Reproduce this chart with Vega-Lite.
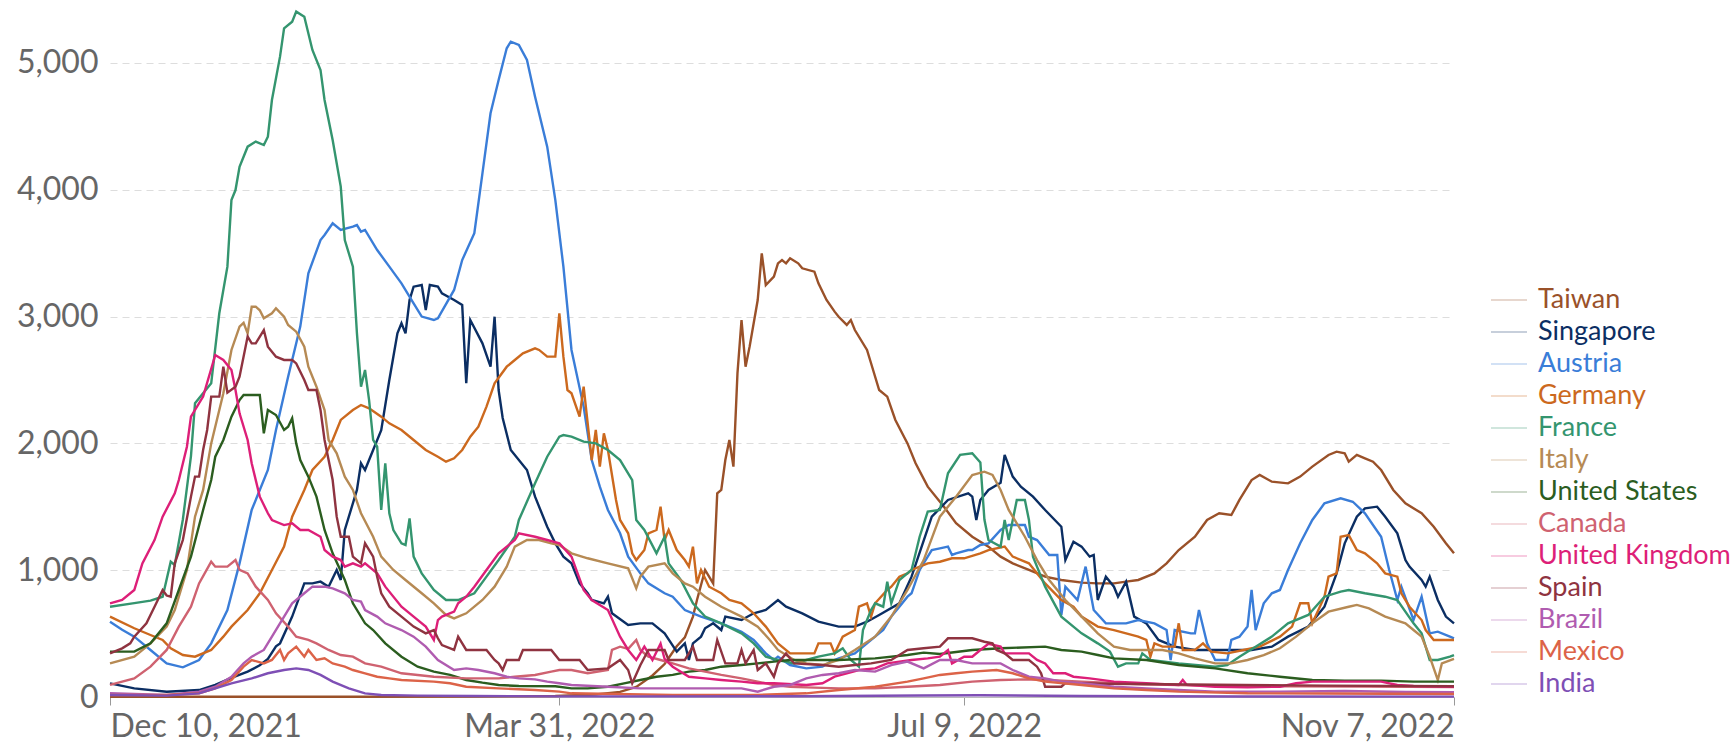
{
"$schema": "https://vega.github.io/schema/vega-lite/v6.json",
"width": 1344, "height": 686,
"autosize": {"type": "none"},
"padding": {"left": 110, "top": 11, "right": 280, "bottom": 52},
"background": "white",
"config": {"font": "Lato", "view": {"stroke": null}},
"data": {"values": [
{"c":"Taiwan","d":"2021-12-10","v":2},{"c":"Taiwan","d":"2022-01-09","v":2},{"c":"Taiwan","d":"2022-02-08","v":2},{"c":"Taiwan","d":"2022-03-10","v":3},{"c":"Taiwan","d":"2022-03-30","v":8},{"c":"Taiwan","d":"2022-04-09","v":20},{"c":"Taiwan","d":"2022-04-15","v":40},{"c":"Taiwan","d":"2022-04-19","v":80},{"c":"Taiwan","d":"2022-04-23","v":170},{"c":"Taiwan","d":"2022-04-26","v":260},{"c":"Taiwan","d":"2022-04-29","v":400},{"c":"Taiwan","d":"2022-05-01","v":470},{"c":"Taiwan","d":"2022-05-03","v":634},{"c":"Taiwan","d":"2022-05-04","v":765},{"c":"Taiwan","d":"2022-05-06","v":1002},{"c":"Taiwan","d":"2022-05-08","v":896},{"c":"Taiwan","d":"2022-05-09","v":1606},{"c":"Taiwan","d":"2022-05-10","v":1633},{"c":"Taiwan","d":"2022-05-11","v":1869},{"c":"Taiwan","d":"2022-05-12","v":2027},{"c":"Taiwan","d":"2022-05-13","v":1817},{"c":"Taiwan","d":"2022-05-14","v":2553},{"c":"Taiwan","d":"2022-05-15","v":2973},{"c":"Taiwan","d":"2022-05-16","v":2605},{"c":"Taiwan","d":"2022-05-17","v":2763},{"c":"Taiwan","d":"2022-05-19","v":3131},{"c":"Taiwan","d":"2022-05-20","v":3499},{"c":"Taiwan","d":"2022-05-21","v":3249},{"c":"Taiwan","d":"2022-05-23","v":3315},{"c":"Taiwan","d":"2022-05-24","v":3420},{"c":"Taiwan","d":"2022-05-25","v":3446},{"c":"Taiwan","d":"2022-05-26","v":3420},{"c":"Taiwan","d":"2022-05-27","v":3460},{"c":"Taiwan","d":"2022-05-29","v":3420},{"c":"Taiwan","d":"2022-05-30","v":3381},{"c":"Taiwan","d":"2022-06-02","v":3354},{"c":"Taiwan","d":"2022-06-03","v":3262},{"c":"Taiwan","d":"2022-06-05","v":3131},{"c":"Taiwan","d":"2022-06-07","v":3039},{"c":"Taiwan","d":"2022-06-08","v":2999},{"c":"Taiwan","d":"2022-06-10","v":2934},{"c":"Taiwan","d":"2022-06-11","v":2973},{"c":"Taiwan","d":"2022-06-12","v":2894},{"c":"Taiwan","d":"2022-06-15","v":2737},{"c":"Taiwan","d":"2022-06-16","v":2632},{"c":"Taiwan","d":"2022-06-18","v":2421},{"c":"Taiwan","d":"2022-06-20","v":2369},{"c":"Taiwan","d":"2022-06-22","v":2185},{"c":"Taiwan","d":"2022-06-25","v":2000},{"c":"Taiwan","d":"2022-06-27","v":1843},{"c":"Taiwan","d":"2022-06-30","v":1659},{"c":"Taiwan","d":"2022-07-04","v":1501},{"c":"Taiwan","d":"2022-07-07","v":1370},{"c":"Taiwan","d":"2022-07-11","v":1264},{"c":"Taiwan","d":"2022-07-15","v":1186},{"c":"Taiwan","d":"2022-07-18","v":1107},{"c":"Taiwan","d":"2022-07-21","v":1054},{"c":"Taiwan","d":"2022-07-25","v":1002},{"c":"Taiwan","d":"2022-07-29","v":949},{"c":"Taiwan","d":"2022-08-02","v":923},{"c":"Taiwan","d":"2022-08-07","v":902},{"c":"Taiwan","d":"2022-08-11","v":896},{"c":"Taiwan","d":"2022-08-15","v":896},{"c":"Taiwan","d":"2022-08-18","v":910},{"c":"Taiwan","d":"2022-08-21","v":923},{"c":"Taiwan","d":"2022-08-25","v":975},{"c":"Taiwan","d":"2022-08-28","v":1054},{"c":"Taiwan","d":"2022-08-31","v":1159},{"c":"Taiwan","d":"2022-09-04","v":1264},{"c":"Taiwan","d":"2022-09-07","v":1396},{"c":"Taiwan","d":"2022-09-10","v":1449},{"c":"Taiwan","d":"2022-09-13","v":1435},{"c":"Taiwan","d":"2022-09-15","v":1554},{"c":"Taiwan","d":"2022-09-18","v":1711},{"c":"Taiwan","d":"2022-09-20","v":1751},{"c":"Taiwan","d":"2022-09-23","v":1698},{"c":"Taiwan","d":"2022-09-27","v":1685},{"c":"Taiwan","d":"2022-09-30","v":1738},{"c":"Taiwan","d":"2022-10-03","v":1817},{"c":"Taiwan","d":"2022-10-07","v":1909},{"c":"Taiwan","d":"2022-10-09","v":1935},{"c":"Taiwan","d":"2022-10-11","v":1922},{"c":"Taiwan","d":"2022-10-12","v":1856},{"c":"Taiwan","d":"2022-10-14","v":1909},{"c":"Taiwan","d":"2022-10-16","v":1882},{"c":"Taiwan","d":"2022-10-18","v":1856},{"c":"Taiwan","d":"2022-10-20","v":1790},{"c":"Taiwan","d":"2022-10-23","v":1633},{"c":"Taiwan","d":"2022-10-26","v":1527},{"c":"Taiwan","d":"2022-10-30","v":1449},{"c":"Taiwan","d":"2022-11-02","v":1343},{"c":"Taiwan","d":"2022-11-05","v":1212},{"c":"Taiwan","d":"2022-11-07","v":1133},

{"c":"Singapore","d":"2021-12-10","v":108},{"c":"Singapore","d":"2021-12-16","v":68},{"c":"Singapore","d":"2021-12-24","v":42},{"c":"Singapore","d":"2022-01-01","v":55},{"c":"Singapore","d":"2022-01-05","v":95},{"c":"Singapore","d":"2022-01-09","v":150},{"c":"Singapore","d":"2022-01-13","v":200},{"c":"Singapore","d":"2022-01-16","v":250},{"c":"Singapore","d":"2022-01-18","v":300},{"c":"Singapore","d":"2022-01-20","v":400},{"c":"Singapore","d":"2022-01-21","v":423},{"c":"Singapore","d":"2022-01-24","v":634},{"c":"Singapore","d":"2022-01-27","v":896},{"c":"Singapore","d":"2022-01-29","v":896},{"c":"Singapore","d":"2022-01-31","v":910},{"c":"Singapore","d":"2022-02-02","v":870},{"c":"Singapore","d":"2022-02-04","v":1002},{"c":"Singapore","d":"2022-02-05","v":923},{"c":"Singapore","d":"2022-02-06","v":1317},{"c":"Singapore","d":"2022-02-09","v":1633},{"c":"Singapore","d":"2022-02-10","v":1843},{"c":"Singapore","d":"2022-02-11","v":1790},{"c":"Singapore","d":"2022-02-13","v":1948},{"c":"Singapore","d":"2022-02-15","v":2105},{"c":"Singapore","d":"2022-02-17","v":2500},{"c":"Singapore","d":"2022-02-19","v":2868},{"c":"Singapore","d":"2022-02-20","v":2947},{"c":"Singapore","d":"2022-02-21","v":2868},{"c":"Singapore","d":"2022-02-22","v":3131},{"c":"Singapore","d":"2022-02-23","v":3236},{"c":"Singapore","d":"2022-02-25","v":3249},{"c":"Singapore","d":"2022-02-26","v":3052},{"c":"Singapore","d":"2022-02-27","v":3249},{"c":"Singapore","d":"2022-03-01","v":3236},{"c":"Singapore","d":"2022-03-02","v":3183},{"c":"Singapore","d":"2022-03-05","v":3131},{"c":"Singapore","d":"2022-03-07","v":3091},{"c":"Singapore","d":"2022-03-08","v":2474},{"c":"Singapore","d":"2022-03-09","v":2973},{"c":"Singapore","d":"2022-03-12","v":2789},{"c":"Singapore","d":"2022-03-14","v":2605},{"c":"Singapore","d":"2022-03-15","v":2999},{"c":"Singapore","d":"2022-03-16","v":2421},{"c":"Singapore","d":"2022-03-17","v":2200},{"c":"Singapore","d":"2022-03-19","v":1948},{"c":"Singapore","d":"2022-03-23","v":1790},{"c":"Singapore","d":"2022-03-25","v":1580},{"c":"Singapore","d":"2022-03-28","v":1343},{"c":"Singapore","d":"2022-03-30","v":1212},{"c":"Singapore","d":"2022-04-01","v":1107},{"c":"Singapore","d":"2022-04-03","v":1054},{"c":"Singapore","d":"2022-04-05","v":896},{"c":"Singapore","d":"2022-04-07","v":818},{"c":"Singapore","d":"2022-04-08","v":765},{"c":"Singapore","d":"2022-04-11","v":739},{"c":"Singapore","d":"2022-04-12","v":791},{"c":"Singapore","d":"2022-04-13","v":660},{"c":"Singapore","d":"2022-04-17","v":568},{"c":"Singapore","d":"2022-04-20","v":581},{"c":"Singapore","d":"2022-04-23","v":581},{"c":"Singapore","d":"2022-04-26","v":502},{"c":"Singapore","d":"2022-04-29","v":358},{"c":"Singapore","d":"2022-05-01","v":423},{"c":"Singapore","d":"2022-05-02","v":292},{"c":"Singapore","d":"2022-05-03","v":423},{"c":"Singapore","d":"2022-05-05","v":476},{"c":"Singapore","d":"2022-05-06","v":542},{"c":"Singapore","d":"2022-05-08","v":581},{"c":"Singapore","d":"2022-05-10","v":528},{"c":"Singapore","d":"2022-05-11","v":634},{"c":"Singapore","d":"2022-05-15","v":607},{"c":"Singapore","d":"2022-05-18","v":660},{"c":"Singapore","d":"2022-05-21","v":686},{"c":"Singapore","d":"2022-05-24","v":765},{"c":"Singapore","d":"2022-05-26","v":712},{"c":"Singapore","d":"2022-05-30","v":660},{"c":"Singapore","d":"2022-06-03","v":594},{"c":"Singapore","d":"2022-06-08","v":555},{"c":"Singapore","d":"2022-06-12","v":555},{"c":"Singapore","d":"2022-06-15","v":594},{"c":"Singapore","d":"2022-06-18","v":647},{"c":"Singapore","d":"2022-06-23","v":739},{"c":"Singapore","d":"2022-06-26","v":949},{"c":"Singapore","d":"2022-07-01","v":1422},{"c":"Singapore","d":"2022-07-05","v":1554},{"c":"Singapore","d":"2022-07-10","v":1606},{"c":"Singapore","d":"2022-07-11","v":1580},{"c":"Singapore","d":"2022-07-12","v":1396},{"c":"Singapore","d":"2022-07-13","v":1554},{"c":"Singapore","d":"2022-07-15","v":1633},{"c":"Singapore","d":"2022-07-18","v":1690},{"c":"Singapore","d":"2022-07-19","v":1909},{"c":"Singapore","d":"2022-07-21","v":1738},{"c":"Singapore","d":"2022-07-23","v":1659},{"c":"Singapore","d":"2022-07-26","v":1580},{"c":"Singapore","d":"2022-07-29","v":1475},{"c":"Singapore","d":"2022-08-02","v":1343},{"c":"Singapore","d":"2022-08-03","v":1080},{"c":"Singapore","d":"2022-08-05","v":1225},{"c":"Singapore","d":"2022-08-07","v":1186},{"c":"Singapore","d":"2022-08-09","v":1107},{"c":"Singapore","d":"2022-08-10","v":1120},{"c":"Singapore","d":"2022-08-11","v":765},{"c":"Singapore","d":"2022-08-13","v":949},{"c":"Singapore","d":"2022-08-15","v":870},{"c":"Singapore","d":"2022-08-16","v":791},{"c":"Singapore","d":"2022-08-18","v":910},{"c":"Singapore","d":"2022-08-20","v":634},{"c":"Singapore","d":"2022-08-23","v":581},{"c":"Singapore","d":"2022-08-26","v":450},{"c":"Singapore","d":"2022-08-30","v":397},{"c":"Singapore","d":"2022-09-04","v":371},{"c":"Singapore","d":"2022-09-13","v":371},{"c":"Singapore","d":"2022-09-18","v":371},{"c":"Singapore","d":"2022-09-23","v":397},{"c":"Singapore","d":"2022-09-27","v":476},{"c":"Singapore","d":"2022-10-02","v":555},{"c":"Singapore","d":"2022-10-06","v":712},{"c":"Singapore","d":"2022-10-09","v":975},{"c":"Singapore","d":"2022-10-11","v":1212},{"c":"Singapore","d":"2022-10-14","v":1422},{"c":"Singapore","d":"2022-10-16","v":1488},{"c":"Singapore","d":"2022-10-19","v":1501},{"c":"Singapore","d":"2022-10-21","v":1422},{"c":"Singapore","d":"2022-10-24","v":1291},{"c":"Singapore","d":"2022-10-26","v":1080},{"c":"Singapore","d":"2022-10-27","v":1028},{"c":"Singapore","d":"2022-10-30","v":923},{"c":"Singapore","d":"2022-10-31","v":870},{"c":"Singapore","d":"2022-11-01","v":949},{"c":"Singapore","d":"2022-11-03","v":765},{"c":"Singapore","d":"2022-11-05","v":634},{"c":"Singapore","d":"2022-11-07","v":581},

{"c":"Austria","d":"2021-12-10","v":594},{"c":"Austria","d":"2021-12-13","v":530},{"c":"Austria","d":"2021-12-16","v":476},{"c":"Austria","d":"2021-12-20","v":371},{"c":"Austria","d":"2021-12-24","v":265},{"c":"Austria","d":"2021-12-28","v":234},{"c":"Austria","d":"2022-01-01","v":292},{"c":"Austria","d":"2022-01-04","v":423},{"c":"Austria","d":"2022-01-08","v":686},{"c":"Austria","d":"2022-01-11","v":1054},{"c":"Austria","d":"2022-01-14","v":1475},{"c":"Austria","d":"2022-01-18","v":1790},{"c":"Austria","d":"2022-01-20","v":2105},{"c":"Austria","d":"2022-01-23","v":2526},{"c":"Austria","d":"2022-01-26","v":2921},{"c":"Austria","d":"2022-01-28","v":3341},{"c":"Austria","d":"2022-01-31","v":3604},{"c":"Austria","d":"2022-02-01","v":3644},{"c":"Austria","d":"2022-02-03","v":3736},{"c":"Austria","d":"2022-02-05","v":3683},{"c":"Austria","d":"2022-02-08","v":3709},{"c":"Austria","d":"2022-02-09","v":3722},{"c":"Austria","d":"2022-02-10","v":3670},{"c":"Austria","d":"2022-02-11","v":3683},{"c":"Austria","d":"2022-02-14","v":3525},{"c":"Austria","d":"2022-02-17","v":3394},{"c":"Austria","d":"2022-02-20","v":3262},{"c":"Austria","d":"2022-02-23","v":3105},{"c":"Austria","d":"2022-02-25","v":3000},{"c":"Austria","d":"2022-02-28","v":2973},{"c":"Austria","d":"2022-03-01","v":2986},{"c":"Austria","d":"2022-03-05","v":3210},{"c":"Austria","d":"2022-03-07","v":3446},{"c":"Austria","d":"2022-03-10","v":3657},{"c":"Austria","d":"2022-03-12","v":4130},{"c":"Austria","d":"2022-03-14","v":4603},{"c":"Austria","d":"2022-03-16","v":4866},{"c":"Austria","d":"2022-03-18","v":5116},{"c":"Austria","d":"2022-03-19","v":5168},{"c":"Austria","d":"2022-03-21","v":5142},{"c":"Austria","d":"2022-03-23","v":5024},{"c":"Austria","d":"2022-03-25","v":4734},{"c":"Austria","d":"2022-03-28","v":4340},{"c":"Austria","d":"2022-03-30","v":3920},{"c":"Austria","d":"2022-04-01","v":3394},{"c":"Austria","d":"2022-04-03","v":2737},{"c":"Austria","d":"2022-04-06","v":2290},{"c":"Austria","d":"2022-04-08","v":1869},{"c":"Austria","d":"2022-04-10","v":1659},{"c":"Austria","d":"2022-04-12","v":1475},{"c":"Austria","d":"2022-04-15","v":1291},{"c":"Austria","d":"2022-04-17","v":1107},{"c":"Austria","d":"2022-04-20","v":975},{"c":"Austria","d":"2022-04-22","v":896},{"c":"Austria","d":"2022-04-26","v":818},{"c":"Austria","d":"2022-04-28","v":791},{"c":"Austria","d":"2022-05-01","v":686},{"c":"Austria","d":"2022-05-05","v":634},{"c":"Austria","d":"2022-05-10","v":581},{"c":"Austria","d":"2022-05-15","v":515},{"c":"Austria","d":"2022-05-18","v":450},{"c":"Austria","d":"2022-05-21","v":344},{"c":"Austria","d":"2022-05-23","v":292},{"c":"Austria","d":"2022-05-24","v":318},{"c":"Austria","d":"2022-05-27","v":252},{"c":"Austria","d":"2022-05-31","v":226},{"c":"Austria","d":"2022-06-04","v":239},{"c":"Austria","d":"2022-06-06","v":279},{"c":"Austria","d":"2022-06-08","v":305},{"c":"Austria","d":"2022-06-12","v":344},{"c":"Austria","d":"2022-06-15","v":423},{"c":"Austria","d":"2022-06-17","v":476},{"c":"Austria","d":"2022-06-19","v":528},{"c":"Austria","d":"2022-06-21","v":634},{"c":"Austria","d":"2022-06-23","v":712},{"c":"Austria","d":"2022-06-25","v":791},{"c":"Austria","d":"2022-06-26","v":818},{"c":"Austria","d":"2022-06-28","v":1002},{"c":"Austria","d":"2022-06-30","v":1107},{"c":"Austria","d":"2022-07-01","v":1159},{"c":"Austria","d":"2022-07-03","v":1172},{"c":"Austria","d":"2022-07-05","v":1186},{"c":"Austria","d":"2022-07-06","v":1120},{"c":"Austria","d":"2022-07-07","v":1133},{"c":"Austria","d":"2022-07-10","v":1159},{"c":"Austria","d":"2022-07-11","v":1159},{"c":"Austria","d":"2022-07-13","v":1199},{"c":"Austria","d":"2022-07-15","v":1212},{"c":"Austria","d":"2022-07-18","v":1317},{"c":"Austria","d":"2022-07-20","v":1356},{"c":"Austria","d":"2022-07-24","v":1356},{"c":"Austria","d":"2022-07-25","v":1264},{"c":"Austria","d":"2022-07-27","v":1238},{"c":"Austria","d":"2022-07-30","v":1120},{"c":"Austria","d":"2022-08-01","v":1120},{"c":"Austria","d":"2022-08-02","v":647},{"c":"Austria","d":"2022-08-03","v":870},{"c":"Austria","d":"2022-08-06","v":765},{"c":"Austria","d":"2022-08-08","v":1028},{"c":"Austria","d":"2022-08-10","v":686},{"c":"Austria","d":"2022-08-13","v":581},{"c":"Austria","d":"2022-08-18","v":581},{"c":"Austria","d":"2022-08-21","v":607},{"c":"Austria","d":"2022-08-25","v":581},{"c":"Austria","d":"2022-08-28","v":528},{"c":"Austria","d":"2022-08-29","v":292},{"c":"Austria","d":"2022-08-30","v":528},{"c":"Austria","d":"2022-09-03","v":502},{"c":"Austria","d":"2022-09-04","v":502},{"c":"Austria","d":"2022-09-05","v":686},{"c":"Austria","d":"2022-09-07","v":423},{"c":"Austria","d":"2022-09-09","v":292},{"c":"Austria","d":"2022-09-12","v":292},{"c":"Austria","d":"2022-09-13","v":450},{"c":"Austria","d":"2022-09-15","v":476},{"c":"Austria","d":"2022-09-17","v":555},{"c":"Austria","d":"2022-09-18","v":844},{"c":"Austria","d":"2022-09-19","v":528},{"c":"Austria","d":"2022-09-21","v":739},{"c":"Austria","d":"2022-09-23","v":818},{"c":"Austria","d":"2022-09-25","v":844},{"c":"Austria","d":"2022-09-27","v":1002},{"c":"Austria","d":"2022-09-30","v":1212},{"c":"Austria","d":"2022-10-03","v":1396},{"c":"Austria","d":"2022-10-06","v":1527},{"c":"Austria","d":"2022-10-10","v":1567},{"c":"Austria","d":"2022-10-13","v":1540},{"c":"Austria","d":"2022-10-16","v":1449},{"c":"Austria","d":"2022-10-20","v":1264},{"c":"Austria","d":"2022-10-22","v":1002},{"c":"Austria","d":"2022-10-24","v":765},{"c":"Austria","d":"2022-10-25","v":870},{"c":"Austria","d":"2022-10-28","v":607},{"c":"Austria","d":"2022-10-30","v":791},{"c":"Austria","d":"2022-11-01","v":502},{"c":"Austria","d":"2022-11-03","v":515},{"c":"Austria","d":"2022-11-06","v":476},{"c":"Austria","d":"2022-11-07","v":463},

{"c":"Germany","d":"2021-12-10","v":634},{"c":"Germany","d":"2021-12-16","v":542},{"c":"Germany","d":"2021-12-20","v":489},{"c":"Germany","d":"2021-12-23","v":450},{"c":"Germany","d":"2021-12-25","v":384},{"c":"Germany","d":"2021-12-28","v":331},{"c":"Germany","d":"2021-12-31","v":318},{"c":"Germany","d":"2022-01-04","v":371},{"c":"Germany","d":"2022-01-07","v":476},{"c":"Germany","d":"2022-01-09","v":555},{"c":"Germany","d":"2022-01-13","v":686},{"c":"Germany","d":"2022-01-16","v":818},{"c":"Germany","d":"2022-01-19","v":1002},{"c":"Germany","d":"2022-01-22","v":1186},{"c":"Germany","d":"2022-01-24","v":1422},{"c":"Germany","d":"2022-01-27","v":1633},{"c":"Germany","d":"2022-01-29","v":1790},{"c":"Germany","d":"2022-02-01","v":1895},{"c":"Germany","d":"2022-02-03","v":2027},{"c":"Germany","d":"2022-02-05","v":2185},{"c":"Germany","d":"2022-02-08","v":2263},{"c":"Germany","d":"2022-02-10","v":2303},{"c":"Germany","d":"2022-02-12","v":2277},{"c":"Germany","d":"2022-02-15","v":2211},{"c":"Germany","d":"2022-02-17","v":2158},{"c":"Germany","d":"2022-02-20","v":2106},{"c":"Germany","d":"2022-02-23","v":2027},{"c":"Germany","d":"2022-02-26","v":1948},{"c":"Germany","d":"2022-03-01","v":1895},{"c":"Germany","d":"2022-03-03","v":1856},{"c":"Germany","d":"2022-03-05","v":1882},{"c":"Germany","d":"2022-03-07","v":1948},{"c":"Germany","d":"2022-03-09","v":2053},{"c":"Germany","d":"2022-03-11","v":2132},{"c":"Germany","d":"2022-03-13","v":2290},{"c":"Germany","d":"2022-03-15","v":2474},{"c":"Germany","d":"2022-03-18","v":2605},{"c":"Germany","d":"2022-03-20","v":2658},{"c":"Germany","d":"2022-03-22","v":2710},{"c":"Germany","d":"2022-03-25","v":2750},{"c":"Germany","d":"2022-03-26","v":2737},{"c":"Germany","d":"2022-03-28","v":2684},{"c":"Germany","d":"2022-03-30","v":2684},{"c":"Germany","d":"2022-03-31","v":3026},{"c":"Germany","d":"2022-04-01","v":2684},{"c":"Germany","d":"2022-04-02","v":2421},{"c":"Germany","d":"2022-04-03","v":2395},{"c":"Germany","d":"2022-04-05","v":2211},{"c":"Germany","d":"2022-04-06","v":2447},{"c":"Germany","d":"2022-04-08","v":1869},{"c":"Germany","d":"2022-04-09","v":2106},{"c":"Germany","d":"2022-04-10","v":1816},{"c":"Germany","d":"2022-04-11","v":2079},{"c":"Germany","d":"2022-04-12","v":1948},{"c":"Germany","d":"2022-04-14","v":1554},{"c":"Germany","d":"2022-04-15","v":1396},{"c":"Germany","d":"2022-04-17","v":1291},{"c":"Germany","d":"2022-04-18","v":1133},{"c":"Germany","d":"2022-04-19","v":1080},{"c":"Germany","d":"2022-04-21","v":1159},{"c":"Germany","d":"2022-04-22","v":1291},{"c":"Germany","d":"2022-04-24","v":1317},{"c":"Germany","d":"2022-04-25","v":1501},{"c":"Germany","d":"2022-04-26","v":1238},{"c":"Germany","d":"2022-04-27","v":1317},{"c":"Germany","d":"2022-04-29","v":1159},{"c":"Germany","d":"2022-05-01","v":1080},{"c":"Germany","d":"2022-05-02","v":1028},{"c":"Germany","d":"2022-05-03","v":1186},{"c":"Germany","d":"2022-05-04","v":896},{"c":"Germany","d":"2022-05-05","v":1002},{"c":"Germany","d":"2022-05-07","v":870},{"c":"Germany","d":"2022-05-10","v":818},{"c":"Germany","d":"2022-05-12","v":765},{"c":"Germany","d":"2022-05-15","v":739},{"c":"Germany","d":"2022-05-18","v":660},{"c":"Germany","d":"2022-05-21","v":555},{"c":"Germany","d":"2022-05-24","v":423},{"c":"Germany","d":"2022-05-27","v":344},{"c":"Germany","d":"2022-06-02","v":344},{"c":"Germany","d":"2022-06-03","v":423},{"c":"Germany","d":"2022-06-06","v":423},{"c":"Germany","d":"2022-06-07","v":344},{"c":"Germany","d":"2022-06-09","v":476},{"c":"Germany","d":"2022-06-12","v":528},{"c":"Germany","d":"2022-06-13","v":712},{"c":"Germany","d":"2022-06-15","v":739},{"c":"Germany","d":"2022-06-16","v":634},{"c":"Germany","d":"2022-06-17","v":739},{"c":"Germany","d":"2022-06-20","v":844},{"c":"Germany","d":"2022-06-21","v":870},{"c":"Germany","d":"2022-06-23","v":949},{"c":"Germany","d":"2022-06-25","v":975},{"c":"Germany","d":"2022-06-26","v":1002},{"c":"Germany","d":"2022-06-30","v":1054},{"c":"Germany","d":"2022-07-03","v":1067},{"c":"Germany","d":"2022-07-06","v":1094},{"c":"Germany","d":"2022-07-09","v":1094},{"c":"Germany","d":"2022-07-13","v":1133},{"c":"Germany","d":"2022-07-15","v":1159},{"c":"Germany","d":"2022-07-19","v":1186},{"c":"Germany","d":"2022-07-21","v":1107},{"c":"Germany","d":"2022-07-25","v":1054},{"c":"Germany","d":"2022-07-29","v":896},{"c":"Germany","d":"2022-08-02","v":765},{"c":"Germany","d":"2022-08-05","v":712},{"c":"Germany","d":"2022-08-07","v":634},{"c":"Germany","d":"2022-08-11","v":555},{"c":"Germany","d":"2022-08-15","v":528},{"c":"Germany","d":"2022-08-18","v":502},{"c":"Germany","d":"2022-08-21","v":476},{"c":"Germany","d":"2022-08-23","v":450},{"c":"Germany","d":"2022-08-24","v":318},{"c":"Germany","d":"2022-08-25","v":423},{"c":"Germany","d":"2022-08-27","v":397},{"c":"Germany","d":"2022-08-30","v":397},{"c":"Germany","d":"2022-08-31","v":581},{"c":"Germany","d":"2022-09-01","v":371},{"c":"Germany","d":"2022-09-04","v":371},{"c":"Germany","d":"2022-09-06","v":423},{"c":"Germany","d":"2022-09-08","v":358},{"c":"Germany","d":"2022-09-12","v":344},{"c":"Germany","d":"2022-09-16","v":371},{"c":"Germany","d":"2022-09-20","v":397},{"c":"Germany","d":"2022-09-25","v":476},{"c":"Germany","d":"2022-09-28","v":555},{"c":"Germany","d":"2022-09-30","v":739},{"c":"Germany","d":"2022-10-02","v":739},{"c":"Germany","d":"2022-10-03","v":581},{"c":"Germany","d":"2022-10-06","v":791},{"c":"Germany","d":"2022-10-07","v":949},{"c":"Germany","d":"2022-10-09","v":975},{"c":"Germany","d":"2022-10-10","v":1264},{"c":"Germany","d":"2022-10-12","v":1277},{"c":"Germany","d":"2022-10-14","v":1159},{"c":"Germany","d":"2022-10-16","v":1133},{"c":"Germany","d":"2022-10-19","v":1054},{"c":"Germany","d":"2022-10-21","v":975},{"c":"Germany","d":"2022-10-24","v":949},{"c":"Germany","d":"2022-10-25","v":818},{"c":"Germany","d":"2022-10-27","v":712},{"c":"Germany","d":"2022-10-30","v":607},{"c":"Germany","d":"2022-10-31","v":528},{"c":"Germany","d":"2022-11-02","v":450},{"c":"Germany","d":"2022-11-07","v":450},

{"c":"France","d":"2021-12-10","v":712},{"c":"France","d":"2021-12-16","v":740},{"c":"France","d":"2021-12-20","v":760},{"c":"France","d":"2021-12-23","v":791},{"c":"France","d":"2021-12-25","v":1067},{"c":"France","d":"2021-12-26","v":1041},{"c":"France","d":"2021-12-28","v":1400},{"c":"France","d":"2021-12-30","v":1900},{"c":"France","d":"2021-12-31","v":2316},{"c":"France","d":"2022-01-04","v":2474},{"c":"France","d":"2022-01-06","v":3026},{"c":"France","d":"2022-01-08","v":3394},{"c":"France","d":"2022-01-09","v":3920},{"c":"France","d":"2022-01-10","v":3998},{"c":"France","d":"2022-01-11","v":4182},{"c":"France","d":"2022-01-13","v":4340},{"c":"France","d":"2022-01-15","v":4380},{"c":"France","d":"2022-01-17","v":4353},{"c":"France","d":"2022-01-18","v":4419},{"c":"France","d":"2022-01-19","v":4708},{"c":"France","d":"2022-01-21","v":5050},{"c":"France","d":"2022-01-22","v":5273},{"c":"France","d":"2022-01-24","v":5326},{"c":"France","d":"2022-01-25","v":5405},{"c":"France","d":"2022-01-27","v":5365},{"c":"France","d":"2022-01-29","v":5103},{"c":"France","d":"2022-01-31","v":4945},{"c":"France","d":"2022-02-01","v":4708},{"c":"France","d":"2022-02-03","v":4393},{"c":"France","d":"2022-02-05","v":4025},{"c":"France","d":"2022-02-06","v":3604},{"c":"France","d":"2022-02-08","v":3394},{"c":"France","d":"2022-02-09","v":2868},{"c":"France","d":"2022-02-10","v":2447},{"c":"France","d":"2022-02-11","v":2579},{"c":"France","d":"2022-02-12","v":2342},{"c":"France","d":"2022-02-13","v":2027},{"c":"France","d":"2022-02-14","v":1974},{"c":"France","d":"2022-02-15","v":1475},{"c":"France","d":"2022-02-16","v":1843},{"c":"France","d":"2022-02-17","v":1449},{"c":"France","d":"2022-02-18","v":1317},{"c":"France","d":"2022-02-20","v":1212},{"c":"France","d":"2022-02-21","v":1199},{"c":"France","d":"2022-02-22","v":1409},{"c":"France","d":"2022-02-23","v":1107},{"c":"France","d":"2022-02-25","v":975},{"c":"France","d":"2022-02-28","v":844},{"c":"France","d":"2022-03-03","v":765},{"c":"France","d":"2022-03-06","v":765},{"c":"France","d":"2022-03-10","v":818},{"c":"France","d":"2022-03-13","v":949},{"c":"France","d":"2022-03-16","v":1080},{"c":"France","d":"2022-03-20","v":1264},{"c":"France","d":"2022-03-21","v":1396},{"c":"France","d":"2022-03-25","v":1685},{"c":"France","d":"2022-03-28","v":1895},{"c":"France","d":"2022-03-31","v":2053},{"c":"France","d":"2022-04-01","v":2066},{"c":"France","d":"2022-04-03","v":2053},{"c":"France","d":"2022-04-06","v":2014},{"c":"France","d":"2022-04-09","v":2000},{"c":"France","d":"2022-04-12","v":1948},{"c":"France","d":"2022-04-15","v":1869},{"c":"France","d":"2022-04-18","v":1711},{"c":"France","d":"2022-04-19","v":1396},{"c":"France","d":"2022-04-21","v":1317},{"c":"France","d":"2022-04-24","v":1133},{"c":"France","d":"2022-04-26","v":1264},{"c":"France","d":"2022-04-27","v":1054},{"c":"France","d":"2022-04-30","v":923},{"c":"France","d":"2022-05-03","v":739},{"c":"France","d":"2022-05-06","v":634},{"c":"France","d":"2022-05-10","v":581},{"c":"France","d":"2022-05-15","v":502},{"c":"France","d":"2022-05-18","v":423},{"c":"France","d":"2022-05-21","v":318},{"c":"France","d":"2022-05-24","v":292},{"c":"France","d":"2022-05-28","v":265},{"c":"France","d":"2022-05-31","v":292},{"c":"France","d":"2022-06-03","v":318},{"c":"France","d":"2022-06-07","v":344},{"c":"France","d":"2022-06-09","v":384},{"c":"France","d":"2022-06-11","v":292},{"c":"France","d":"2022-06-13","v":239},{"c":"France","d":"2022-06-14","v":528},{"c":"France","d":"2022-06-16","v":686},{"c":"France","d":"2022-06-17","v":739},{"c":"France","d":"2022-06-19","v":712},{"c":"France","d":"2022-06-20","v":910},{"c":"France","d":"2022-06-21","v":739},{"c":"France","d":"2022-06-23","v":923},{"c":"France","d":"2022-06-26","v":1002},{"c":"France","d":"2022-06-28","v":1264},{"c":"France","d":"2022-06-30","v":1462},{"c":"France","d":"2022-07-03","v":1475},{"c":"France","d":"2022-07-05","v":1764},{"c":"France","d":"2022-07-08","v":1909},{"c":"France","d":"2022-07-11","v":1922},{"c":"France","d":"2022-07-13","v":1850},{"c":"France","d":"2022-07-14","v":1400},{"c":"France","d":"2022-07-15","v":1238},{"c":"France","d":"2022-07-18","v":1186},{"c":"France","d":"2022-07-19","v":1396},{"c":"France","d":"2022-07-20","v":1238},{"c":"France","d":"2022-07-22","v":1554},{"c":"France","d":"2022-07-24","v":1554},{"c":"France","d":"2022-07-25","v":1396},{"c":"France","d":"2022-07-26","v":1107},{"c":"France","d":"2022-07-29","v":870},{"c":"France","d":"2022-08-02","v":634},{"c":"France","d":"2022-08-07","v":502},{"c":"France","d":"2022-08-11","v":423},{"c":"France","d":"2022-08-14","v":358},{"c":"France","d":"2022-08-16","v":239},{"c":"France","d":"2022-08-18","v":265},{"c":"France","d":"2022-08-21","v":265},{"c":"France","d":"2022-08-22","v":344},{"c":"France","d":"2022-08-24","v":292},{"c":"France","d":"2022-08-31","v":265},{"c":"France","d":"2022-09-09","v":239},{"c":"France","d":"2022-09-12","v":252},{"c":"France","d":"2022-09-15","v":318},{"c":"France","d":"2022-09-19","v":397},{"c":"France","d":"2022-09-23","v":476},{"c":"France","d":"2022-09-27","v":581},{"c":"France","d":"2022-10-02","v":647},{"c":"France","d":"2022-10-06","v":791},{"c":"France","d":"2022-10-10","v":831},{"c":"France","d":"2022-10-12","v":844},{"c":"France","d":"2022-10-16","v":818},{"c":"France","d":"2022-10-21","v":791},{"c":"France","d":"2022-10-24","v":765},{"c":"France","d":"2022-10-28","v":581},{"c":"France","d":"2022-10-30","v":502},{"c":"France","d":"2022-11-01","v":292},{"c":"France","d":"2022-11-03","v":292},{"c":"France","d":"2022-11-06","v":318},{"c":"France","d":"2022-11-07","v":331},

{"c":"Italy","d":"2021-12-10","v":265},{"c":"Italy","d":"2021-12-16","v":318},{"c":"Italy","d":"2021-12-20","v":423},{"c":"Italy","d":"2021-12-24","v":555},{"c":"Italy","d":"2021-12-26","v":686},{"c":"Italy","d":"2021-12-29","v":1002},{"c":"Italy","d":"2021-12-31","v":1422},{"c":"Italy","d":"2022-01-02","v":1633},{"c":"Italy","d":"2022-01-04","v":2000},{"c":"Italy","d":"2022-01-07","v":2395},{"c":"Italy","d":"2022-01-09","v":2737},{"c":"Italy","d":"2022-01-11","v":2921},{"c":"Italy","d":"2022-01-12","v":2950},{"c":"Italy","d":"2022-01-13","v":2868},{"c":"Italy","d":"2022-01-14","v":3078},{"c":"Italy","d":"2022-01-15","v":3078},{"c":"Italy","d":"2022-01-16","v":3050},{"c":"Italy","d":"2022-01-17","v":2986},{"c":"Italy","d":"2022-01-19","v":3026},{"c":"Italy","d":"2022-01-20","v":3065},{"c":"Italy","d":"2022-01-22","v":2999},{"c":"Italy","d":"2022-01-23","v":2934},{"c":"Italy","d":"2022-01-25","v":2881},{"c":"Italy","d":"2022-01-27","v":2763},{"c":"Italy","d":"2022-01-28","v":2605},{"c":"Italy","d":"2022-01-30","v":2447},{"c":"Italy","d":"2022-02-01","v":2263},{"c":"Italy","d":"2022-02-02","v":2027},{"c":"Italy","d":"2022-02-04","v":1922},{"c":"Italy","d":"2022-02-06","v":1738},{"c":"Italy","d":"2022-02-08","v":1633},{"c":"Italy","d":"2022-02-10","v":1449},{"c":"Italy","d":"2022-02-13","v":1264},{"c":"Italy","d":"2022-02-15","v":1107},{"c":"Italy","d":"2022-02-18","v":1002},{"c":"Italy","d":"2022-02-21","v":923},{"c":"Italy","d":"2022-02-25","v":818},{"c":"Italy","d":"2022-02-28","v":739},{"c":"Italy","d":"2022-03-03","v":647},{"c":"Italy","d":"2022-03-05","v":620},{"c":"Italy","d":"2022-03-08","v":660},{"c":"Italy","d":"2022-03-12","v":765},{"c":"Italy","d":"2022-03-15","v":870},{"c":"Italy","d":"2022-03-18","v":1028},{"c":"Italy","d":"2022-03-20","v":1186},{"c":"Italy","d":"2022-03-23","v":1238},{"c":"Italy","d":"2022-03-26","v":1238},{"c":"Italy","d":"2022-03-29","v":1212},{"c":"Italy","d":"2022-03-31","v":1199},{"c":"Italy","d":"2022-04-03","v":1133},{"c":"Italy","d":"2022-04-07","v":1094},{"c":"Italy","d":"2022-04-12","v":1054},{"c":"Italy","d":"2022-04-17","v":1015},{"c":"Italy","d":"2022-04-19","v":857},{"c":"Italy","d":"2022-04-20","v":949},{"c":"Italy","d":"2022-04-22","v":1028},{"c":"Italy","d":"2022-04-26","v":1054},{"c":"Italy","d":"2022-04-28","v":975},{"c":"Italy","d":"2022-05-01","v":896},{"c":"Italy","d":"2022-05-03","v":870},{"c":"Italy","d":"2022-05-06","v":791},{"c":"Italy","d":"2022-05-10","v":712},{"c":"Italy","d":"2022-05-15","v":634},{"c":"Italy","d":"2022-05-19","v":555},{"c":"Italy","d":"2022-05-22","v":450},{"c":"Italy","d":"2022-05-24","v":371},{"c":"Italy","d":"2022-05-28","v":292},{"c":"Italy","d":"2022-05-31","v":265},{"c":"Italy","d":"2022-06-04","v":252},{"c":"Italy","d":"2022-06-08","v":292},{"c":"Italy","d":"2022-06-12","v":371},{"c":"Italy","d":"2022-06-17","v":476},{"c":"Italy","d":"2022-06-21","v":634},{"c":"Italy","d":"2022-06-25","v":844},{"c":"Italy","d":"2022-06-29","v":1080},{"c":"Italy","d":"2022-07-03","v":1422},{"c":"Italy","d":"2022-07-07","v":1580},{"c":"Italy","d":"2022-07-11","v":1751},{"c":"Italy","d":"2022-07-14","v":1777},{"c":"Italy","d":"2022-07-16","v":1751},{"c":"Italy","d":"2022-07-18","v":1633},{"c":"Italy","d":"2022-07-20","v":1475},{"c":"Italy","d":"2022-07-24","v":1264},{"c":"Italy","d":"2022-07-27","v":1080},{"c":"Italy","d":"2022-07-30","v":923},{"c":"Italy","d":"2022-08-03","v":765},{"c":"Italy","d":"2022-08-07","v":634},{"c":"Italy","d":"2022-08-11","v":502},{"c":"Italy","d":"2022-08-15","v":397},{"c":"Italy","d":"2022-08-19","v":371},{"c":"Italy","d":"2022-08-27","v":371},{"c":"Italy","d":"2022-08-31","v":344},{"c":"Italy","d":"2022-09-04","v":305},{"c":"Italy","d":"2022-09-09","v":265},{"c":"Italy","d":"2022-09-13","v":265},{"c":"Italy","d":"2022-09-17","v":292},{"c":"Italy","d":"2022-09-21","v":331},{"c":"Italy","d":"2022-09-25","v":384},{"c":"Italy","d":"2022-09-29","v":476},{"c":"Italy","d":"2022-10-03","v":581},{"c":"Italy","d":"2022-10-07","v":673},{"c":"Italy","d":"2022-10-12","v":712},{"c":"Italy","d":"2022-10-14","v":726},{"c":"Italy","d":"2022-10-17","v":699},{"c":"Italy","d":"2022-10-21","v":634},{"c":"Italy","d":"2022-10-26","v":581},{"c":"Italy","d":"2022-10-28","v":528},{"c":"Italy","d":"2022-10-30","v":476},{"c":"Italy","d":"2022-11-01","v":318},{"c":"Italy","d":"2022-11-03","v":134},{"c":"Italy","d":"2022-11-04","v":265},{"c":"Italy","d":"2022-11-07","v":300},

{"c":"United States","d":"2021-12-10","v":358},{"c":"United States","d":"2021-12-16","v":358},{"c":"United States","d":"2021-12-20","v":423},{"c":"United States","d":"2021-12-24","v":581},{"c":"United States","d":"2021-12-27","v":844},{"c":"United States","d":"2021-12-30","v":1107},{"c":"United States","d":"2022-01-02","v":1475},{"c":"United States","d":"2022-01-04","v":1711},{"c":"United States","d":"2022-01-05","v":1895},{"c":"United States","d":"2022-01-07","v":2027},{"c":"United States","d":"2022-01-09","v":2211},{"c":"United States","d":"2022-01-11","v":2342},{"c":"United States","d":"2022-01-12","v":2382},{"c":"United States","d":"2022-01-16","v":2382},{"c":"United States","d":"2022-01-17","v":2079},{"c":"United States","d":"2022-01-18","v":2263},{"c":"United States","d":"2022-01-20","v":2224},{"c":"United States","d":"2022-01-22","v":2106},{"c":"United States","d":"2022-01-23","v":2132},{"c":"United States","d":"2022-01-24","v":2198},{"c":"United States","d":"2022-01-25","v":2000},{"c":"United States","d":"2022-01-26","v":1869},{"c":"United States","d":"2022-01-28","v":1738},{"c":"United States","d":"2022-01-30","v":1580},{"c":"United States","d":"2022-02-01","v":1317},{"c":"United States","d":"2022-02-03","v":1133},{"c":"United States","d":"2022-02-06","v":923},{"c":"United States","d":"2022-02-08","v":739},{"c":"United States","d":"2022-02-11","v":581},{"c":"United States","d":"2022-02-13","v":528},{"c":"United States","d":"2022-02-16","v":423},{"c":"United States","d":"2022-02-20","v":318},{"c":"United States","d":"2022-02-24","v":239},{"c":"United States","d":"2022-02-28","v":200},{"c":"United States","d":"2022-03-04","v":174},{"c":"United States","d":"2022-03-08","v":134},{"c":"United States","d":"2022-03-12","v":113},{"c":"United States","d":"2022-03-16","v":95},{"c":"United States","d":"2022-03-21","v":87},{"c":"United States","d":"2022-03-30","v":85},{"c":"United States","d":"2022-04-03","v":68},{"c":"United States","d":"2022-04-07","v":68},{"c":"United States","d":"2022-04-12","v":81},{"c":"United States","d":"2022-04-16","v":108},{"c":"United States","d":"2022-04-20","v":134},{"c":"United States","d":"2022-04-24","v":160},{"c":"United States","d":"2022-04-28","v":174},{"c":"United States","d":"2022-05-02","v":200},{"c":"United States","d":"2022-05-06","v":213},{"c":"United States","d":"2022-05-10","v":239},{"c":"United States","d":"2022-05-15","v":252},{"c":"United States","d":"2022-05-19","v":265},{"c":"United States","d":"2022-05-23","v":279},{"c":"United States","d":"2022-05-27","v":292},{"c":"United States","d":"2022-06-08","v":292},{"c":"United States","d":"2022-06-17","v":305},{"c":"United States","d":"2022-06-25","v":331},{"c":"United States","d":"2022-06-29","v":350},{"c":"United States","d":"2022-07-03","v":339},{"c":"United States","d":"2022-07-11","v":371},{"c":"United States","d":"2022-07-18","v":384},{"c":"United States","d":"2022-07-29","v":397},{"c":"United States","d":"2022-08-02","v":371},{"c":"United States","d":"2022-08-07","v":358},{"c":"United States","d":"2022-08-11","v":331},{"c":"United States","d":"2022-08-15","v":305},{"c":"United States","d":"2022-08-23","v":292},{"c":"United States","d":"2022-08-31","v":252},{"c":"United States","d":"2022-09-09","v":226},{"c":"United States","d":"2022-09-17","v":187},{"c":"United States","d":"2022-09-25","v":160},{"c":"United States","d":"2022-10-03","v":134},{"c":"United States","d":"2022-10-11","v":129},{"c":"United States","d":"2022-10-20","v":129},{"c":"United States","d":"2022-10-28","v":121},{"c":"United States","d":"2022-11-07","v":121},

{"c":"Canada","d":"2021-12-10","v":95},{"c":"Canada","d":"2021-12-16","v":147},{"c":"Canada","d":"2021-12-20","v":239},{"c":"Canada","d":"2021-12-24","v":371},{"c":"Canada","d":"2021-12-27","v":555},{"c":"Canada","d":"2021-12-30","v":712},{"c":"Canada","d":"2022-01-01","v":896},{"c":"Canada","d":"2022-01-04","v":1067},{"c":"Canada","d":"2022-01-05","v":1028},{"c":"Canada","d":"2022-01-08","v":1028},{"c":"Canada","d":"2022-01-10","v":1080},{"c":"Canada","d":"2022-01-11","v":1002},{"c":"Canada","d":"2022-01-13","v":975},{"c":"Canada","d":"2022-01-15","v":870},{"c":"Canada","d":"2022-01-18","v":765},{"c":"Canada","d":"2022-01-20","v":660},{"c":"Canada","d":"2022-01-23","v":555},{"c":"Canada","d":"2022-01-25","v":476},{"c":"Canada","d":"2022-01-28","v":450},{"c":"Canada","d":"2022-01-30","v":423},{"c":"Canada","d":"2022-02-02","v":371},{"c":"Canada","d":"2022-02-05","v":331},{"c":"Canada","d":"2022-02-08","v":318},{"c":"Canada","d":"2022-02-11","v":265},{"c":"Canada","d":"2022-02-15","v":239},{"c":"Canada","d":"2022-02-20","v":187},{"c":"Canada","d":"2022-02-24","v":174},{"c":"Canada","d":"2022-02-28","v":160},{"c":"Canada","d":"2022-03-08","v":147},{"c":"Canada","d":"2022-03-16","v":147},{"c":"Canada","d":"2022-03-20","v":160},{"c":"Canada","d":"2022-03-25","v":174},{"c":"Canada","d":"2022-03-29","v":200},{"c":"Canada","d":"2022-03-31","v":213},{"c":"Canada","d":"2022-04-03","v":213},{"c":"Canada","d":"2022-04-07","v":187},{"c":"Canada","d":"2022-04-12","v":213},{"c":"Canada","d":"2022-04-13","v":371},{"c":"Canada","d":"2022-04-15","v":397},{"c":"Canada","d":"2022-04-17","v":380},{"c":"Canada","d":"2022-04-19","v":450},{"c":"Canada","d":"2022-04-20","v":371},{"c":"Canada","d":"2022-04-22","v":318},{"c":"Canada","d":"2022-04-25","v":292},{"c":"Canada","d":"2022-04-28","v":265},{"c":"Canada","d":"2022-05-02","v":226},{"c":"Canada","d":"2022-05-06","v":200},{"c":"Canada","d":"2022-05-10","v":174},{"c":"Canada","d":"2022-05-15","v":147},{"c":"Canada","d":"2022-05-19","v":121},{"c":"Canada","d":"2022-05-23","v":95},{"c":"Canada","d":"2022-05-27","v":81},{"c":"Canada","d":"2022-05-31","v":76},{"c":"Canada","d":"2022-06-08","v":68},{"c":"Canada","d":"2022-06-17","v":68},{"c":"Canada","d":"2022-06-25","v":81},{"c":"Canada","d":"2022-07-03","v":95},{"c":"Canada","d":"2022-07-11","v":121},{"c":"Canada","d":"2022-07-18","v":134},{"c":"Canada","d":"2022-07-26","v":140},{"c":"Canada","d":"2022-08-07","v":120},{"c":"Canada","d":"2022-08-22","v":100},{"c":"Canada","d":"2022-09-06","v":90},{"c":"Canada","d":"2022-09-26","v":85},{"c":"Canada","d":"2022-10-16","v":82},{"c":"Canada","d":"2022-11-07","v":78},

{"c":"United Kingdom","d":"2021-12-10","v":739},{"c":"United Kingdom","d":"2021-12-13","v":765},{"c":"United Kingdom","d":"2021-12-16","v":844},{"c":"United Kingdom","d":"2021-12-18","v":1054},{"c":"United Kingdom","d":"2021-12-21","v":1238},{"c":"United Kingdom","d":"2021-12-23","v":1422},{"c":"United Kingdom","d":"2021-12-26","v":1606},{"c":"United Kingdom","d":"2021-12-27","v":1711},{"c":"United Kingdom","d":"2021-12-29","v":1974},{"c":"United Kingdom","d":"2021-12-30","v":2211},{"c":"United Kingdom","d":"2022-01-02","v":2369},{"c":"United Kingdom","d":"2022-01-05","v":2697},{"c":"United Kingdom","d":"2022-01-07","v":2658},{"c":"United Kingdom","d":"2022-01-09","v":2579},{"c":"United Kingdom","d":"2022-01-10","v":2421},{"c":"United Kingdom","d":"2022-01-11","v":2237},{"c":"United Kingdom","d":"2022-01-13","v":2027},{"c":"United Kingdom","d":"2022-01-14","v":1843},{"c":"United Kingdom","d":"2022-01-16","v":1580},{"c":"United Kingdom","d":"2022-01-18","v":1449},{"c":"United Kingdom","d":"2022-01-19","v":1396},{"c":"United Kingdom","d":"2022-01-22","v":1356},{"c":"United Kingdom","d":"2022-01-24","v":1370},{"c":"United Kingdom","d":"2022-01-26","v":1317},{"c":"United Kingdom","d":"2022-01-28","v":1317},{"c":"United Kingdom","d":"2022-01-31","v":1264},{"c":"United Kingdom","d":"2022-02-01","v":1159},{"c":"United Kingdom","d":"2022-02-03","v":1107},{"c":"United Kingdom","d":"2022-02-05","v":1080},{"c":"United Kingdom","d":"2022-02-06","v":1028},{"c":"United Kingdom","d":"2022-02-08","v":1054},{"c":"United Kingdom","d":"2022-02-10","v":1028},{"c":"United Kingdom","d":"2022-02-11","v":1054},{"c":"United Kingdom","d":"2022-02-14","v":975},{"c":"United Kingdom","d":"2022-02-16","v":870},{"c":"United Kingdom","d":"2022-02-20","v":712},{"c":"United Kingdom","d":"2022-02-23","v":634},{"c":"United Kingdom","d":"2022-02-26","v":555},{"c":"United Kingdom","d":"2022-02-28","v":450},{"c":"United Kingdom","d":"2022-03-01","v":607},{"c":"United Kingdom","d":"2022-03-02","v":634},{"c":"United Kingdom","d":"2022-03-05","v":673},{"c":"United Kingdom","d":"2022-03-06","v":739},{"c":"United Kingdom","d":"2022-03-08","v":791},{"c":"United Kingdom","d":"2022-03-10","v":870},{"c":"United Kingdom","d":"2022-03-13","v":1002},{"c":"United Kingdom","d":"2022-03-16","v":1133},{"c":"United Kingdom","d":"2022-03-20","v":1238},{"c":"United Kingdom","d":"2022-03-21","v":1291},{"c":"United Kingdom","d":"2022-03-25","v":1264},{"c":"United Kingdom","d":"2022-03-28","v":1238},{"c":"United Kingdom","d":"2022-03-31","v":1212},{"c":"United Kingdom","d":"2022-04-03","v":1107},{"c":"United Kingdom","d":"2022-04-06","v":844},{"c":"United Kingdom","d":"2022-04-08","v":765},{"c":"United Kingdom","d":"2022-04-12","v":686},{"c":"United Kingdom","d":"2022-04-15","v":476},{"c":"United Kingdom","d":"2022-04-17","v":371},{"c":"United Kingdom","d":"2022-04-19","v":292},{"c":"United Kingdom","d":"2022-04-21","v":397},{"c":"United Kingdom","d":"2022-04-23","v":292},{"c":"United Kingdom","d":"2022-04-25","v":420},{"c":"United Kingdom","d":"2022-04-26","v":300},{"c":"United Kingdom","d":"2022-04-28","v":239},{"c":"United Kingdom","d":"2022-05-02","v":160},{"c":"United Kingdom","d":"2022-05-06","v":147},{"c":"United Kingdom","d":"2022-05-10","v":134},{"c":"United Kingdom","d":"2022-05-15","v":121},{"c":"United Kingdom","d":"2022-05-19","v":108},{"c":"United Kingdom","d":"2022-05-23","v":108},{"c":"United Kingdom","d":"2022-05-31","v":95},{"c":"United Kingdom","d":"2022-06-04","v":108},{"c":"United Kingdom","d":"2022-06-07","v":160},{"c":"United Kingdom","d":"2022-06-10","v":187},{"c":"United Kingdom","d":"2022-06-13","v":213},{"c":"United Kingdom","d":"2022-06-17","v":226},{"c":"United Kingdom","d":"2022-06-20","v":265},{"c":"United Kingdom","d":"2022-06-23","v":279},{"c":"United Kingdom","d":"2022-06-26","v":292},{"c":"United Kingdom","d":"2022-06-30","v":305},{"c":"United Kingdom","d":"2022-07-03","v":318},{"c":"United Kingdom","d":"2022-07-05","v":371},{"c":"United Kingdom","d":"2022-07-06","v":265},{"c":"United Kingdom","d":"2022-07-09","v":318},{"c":"United Kingdom","d":"2022-07-11","v":318},{"c":"United Kingdom","d":"2022-07-13","v":371},{"c":"United Kingdom","d":"2022-07-15","v":420},{"c":"United Kingdom","d":"2022-07-18","v":397},{"c":"United Kingdom","d":"2022-07-19","v":344},{"c":"United Kingdom","d":"2022-07-25","v":344},{"c":"United Kingdom","d":"2022-07-27","v":292},{"c":"United Kingdom","d":"2022-07-29","v":265},{"c":"United Kingdom","d":"2022-07-31","v":187},{"c":"United Kingdom","d":"2022-08-03","v":187},{"c":"United Kingdom","d":"2022-08-05","v":160},{"c":"United Kingdom","d":"2022-08-09","v":147},{"c":"United Kingdom","d":"2022-08-15","v":121},{"c":"United Kingdom","d":"2022-08-23","v":108},{"c":"United Kingdom","d":"2022-08-31","v":95},{"c":"United Kingdom","d":"2022-09-01","v":134},{"c":"United Kingdom","d":"2022-09-02","v":95},{"c":"United Kingdom","d":"2022-09-09","v":81},{"c":"United Kingdom","d":"2022-09-17","v":76},{"c":"United Kingdom","d":"2022-09-25","v":81},{"c":"United Kingdom","d":"2022-09-29","v":108},{"c":"United Kingdom","d":"2022-10-03","v":121},{"c":"United Kingdom","d":"2022-10-20","v":121},{"c":"United Kingdom","d":"2022-10-24","v":95},{"c":"United Kingdom","d":"2022-10-28","v":87},{"c":"United Kingdom","d":"2022-11-07","v":81},

{"c":"Spain","d":"2021-12-10","v":344},{"c":"Spain","d":"2021-12-13","v":384},{"c":"Spain","d":"2021-12-15","v":423},{"c":"Spain","d":"2021-12-16","v":476},{"c":"Spain","d":"2021-12-19","v":581},{"c":"Spain","d":"2021-12-21","v":712},{"c":"Spain","d":"2021-12-23","v":844},{"c":"Spain","d":"2021-12-24","v":800},{"c":"Spain","d":"2021-12-25","v":791},{"c":"Spain","d":"2021-12-26","v":1054},{"c":"Spain","d":"2021-12-28","v":1238},{"c":"Spain","d":"2021-12-30","v":1580},{"c":"Spain","d":"2021-12-31","v":1738},{"c":"Spain","d":"2022-01-01","v":1738},{"c":"Spain","d":"2022-01-02","v":1948},{"c":"Spain","d":"2022-01-03","v":2106},{"c":"Spain","d":"2022-01-04","v":2369},{"c":"Spain","d":"2022-01-06","v":2369},{"c":"Spain","d":"2022-01-07","v":2605},{"c":"Spain","d":"2022-01-08","v":2400},{"c":"Spain","d":"2022-01-10","v":2447},{"c":"Spain","d":"2022-01-11","v":2526},{"c":"Spain","d":"2022-01-13","v":2842},{"c":"Spain","d":"2022-01-14","v":2789},{"c":"Spain","d":"2022-01-15","v":2789},{"c":"Spain","d":"2022-01-17","v":2894},{"c":"Spain","d":"2022-01-18","v":2763},{"c":"Spain","d":"2022-01-20","v":2684},{"c":"Spain","d":"2022-01-22","v":2658},{"c":"Spain","d":"2022-01-24","v":2658},{"c":"Spain","d":"2022-01-25","v":2631},{"c":"Spain","d":"2022-01-27","v":2500},{"c":"Spain","d":"2022-01-28","v":2421},{"c":"Spain","d":"2022-01-30","v":2421},{"c":"Spain","d":"2022-01-31","v":2263},{"c":"Spain","d":"2022-02-01","v":2027},{"c":"Spain","d":"2022-02-03","v":1711},{"c":"Spain","d":"2022-02-04","v":1422},{"c":"Spain","d":"2022-02-05","v":1264},{"c":"Spain","d":"2022-02-07","v":1264},{"c":"Spain","d":"2022-02-08","v":1107},{"c":"Spain","d":"2022-02-10","v":1054},{"c":"Spain","d":"2022-02-11","v":1212},{"c":"Spain","d":"2022-02-13","v":1107},{"c":"Spain","d":"2022-02-14","v":949},{"c":"Spain","d":"2022-02-15","v":818},{"c":"Spain","d":"2022-02-17","v":712},{"c":"Spain","d":"2022-02-20","v":634},{"c":"Spain","d":"2022-02-23","v":555},{"c":"Spain","d":"2022-02-26","v":502},{"c":"Spain","d":"2022-02-28","v":528},{"c":"Spain","d":"2022-03-01","v":463},{"c":"Spain","d":"2022-03-02","v":410},{"c":"Spain","d":"2022-03-05","v":371},{"c":"Spain","d":"2022-03-06","v":476},{"c":"Spain","d":"2022-03-08","v":371},{"c":"Spain","d":"2022-03-13","v":371},{"c":"Spain","d":"2022-03-15","v":292},{"c":"Spain","d":"2022-03-16","v":265},{"c":"Spain","d":"2022-03-17","v":213},{"c":"Spain","d":"2022-03-18","v":292},{"c":"Spain","d":"2022-03-21","v":292},{"c":"Spain","d":"2022-03-22","v":371},{"c":"Spain","d":"2022-03-29","v":371},{"c":"Spain","d":"2022-03-31","v":292},{"c":"Spain","d":"2022-04-05","v":292},{"c":"Spain","d":"2022-04-07","v":213},{"c":"Spain","d":"2022-04-12","v":226},{"c":"Spain","d":"2022-04-15","v":292},{"c":"Spain","d":"2022-04-17","v":213},{"c":"Spain","d":"2022-04-18","v":108},{"c":"Spain","d":"2022-04-20","v":250},{"c":"Spain","d":"2022-04-22","v":371},{"c":"Spain","d":"2022-04-26","v":371},{"c":"Spain","d":"2022-04-27","v":292},{"c":"Spain","d":"2022-05-01","v":292},{"c":"Spain","d":"2022-05-03","v":397},{"c":"Spain","d":"2022-05-04","v":292},{"c":"Spain","d":"2022-05-08","v":292},{"c":"Spain","d":"2022-05-09","v":450},{"c":"Spain","d":"2022-05-11","v":265},{"c":"Spain","d":"2022-05-14","v":265},{"c":"Spain","d":"2022-05-15","v":371},{"c":"Spain","d":"2022-05-16","v":265},{"c":"Spain","d":"2022-05-18","v":371},{"c":"Spain","d":"2022-05-19","v":213},{"c":"Spain","d":"2022-05-21","v":265},{"c":"Spain","d":"2022-05-23","v":160},{"c":"Spain","d":"2022-05-24","v":265},{"c":"Spain","d":"2022-05-26","v":344},{"c":"Spain","d":"2022-05-28","v":265},{"c":"Spain","d":"2022-06-04","v":252},{"c":"Spain","d":"2022-06-08","v":239},{"c":"Spain","d":"2022-06-12","v":252},{"c":"Spain","d":"2022-06-16","v":265},{"c":"Spain","d":"2022-06-21","v":292},{"c":"Spain","d":"2022-06-25","v":371},{"c":"Spain","d":"2022-06-29","v":384},{"c":"Spain","d":"2022-07-03","v":397},{"c":"Spain","d":"2022-07-05","v":463},{"c":"Spain","d":"2022-07-11","v":463},{"c":"Spain","d":"2022-07-14","v":436},{"c":"Spain","d":"2022-07-16","v":423},{"c":"Spain","d":"2022-07-17","v":371},{"c":"Spain","d":"2022-07-19","v":344},{"c":"Spain","d":"2022-07-21","v":292},{"c":"Spain","d":"2022-07-25","v":292},{"c":"Spain","d":"2022-07-27","v":239},{"c":"Spain","d":"2022-07-28","v":187},{"c":"Spain","d":"2022-07-29","v":81},{"c":"Spain","d":"2022-08-02","v":81},{"c":"Spain","d":"2022-08-03","v":110},{"c":"Spain","d":"2022-08-12","v":105},{"c":"Spain","d":"2022-08-27","v":100},{"c":"Spain","d":"2022-09-16","v":95},{"c":"Spain","d":"2022-10-06","v":90},{"c":"Spain","d":"2022-11-07","v":85},

{"c":"Brazil","d":"2021-12-10","v":29},{"c":"Brazil","d":"2021-12-24","v":16},{"c":"Brazil","d":"2022-01-01","v":42},{"c":"Brazil","d":"2022-01-05","v":81},{"c":"Brazil","d":"2022-01-09","v":160},{"c":"Brazil","d":"2022-01-12","v":265},{"c":"Brazil","d":"2022-01-14","v":318},{"c":"Brazil","d":"2022-01-17","v":371},{"c":"Brazil","d":"2022-01-19","v":476},{"c":"Brazil","d":"2022-01-22","v":634},{"c":"Brazil","d":"2022-01-24","v":739},{"c":"Brazil","d":"2022-01-27","v":818},{"c":"Brazil","d":"2022-01-29","v":870},{"c":"Brazil","d":"2022-02-01","v":870},{"c":"Brazil","d":"2022-02-03","v":857},{"c":"Brazil","d":"2022-02-06","v":818},{"c":"Brazil","d":"2022-02-08","v":765},{"c":"Brazil","d":"2022-02-10","v":752},{"c":"Brazil","d":"2022-02-11","v":686},{"c":"Brazil","d":"2022-02-14","v":634},{"c":"Brazil","d":"2022-02-16","v":581},{"c":"Brazil","d":"2022-02-20","v":528},{"c":"Brazil","d":"2022-02-23","v":476},{"c":"Brazil","d":"2022-02-26","v":397},{"c":"Brazil","d":"2022-03-01","v":292},{"c":"Brazil","d":"2022-03-05","v":213},{"c":"Brazil","d":"2022-03-08","v":226},{"c":"Brazil","d":"2022-03-11","v":213},{"c":"Brazil","d":"2022-03-15","v":187},{"c":"Brazil","d":"2022-03-18","v":160},{"c":"Brazil","d":"2022-03-21","v":147},{"c":"Brazil","d":"2022-03-25","v":139},{"c":"Brazil","d":"2022-03-28","v":121},{"c":"Brazil","d":"2022-03-31","v":108},{"c":"Brazil","d":"2022-04-03","v":95},{"c":"Brazil","d":"2022-04-12","v":81},{"c":"Brazil","d":"2022-04-20","v":68},{"c":"Brazil","d":"2022-05-15","v":68},{"c":"Brazil","d":"2022-05-19","v":42},{"c":"Brazil","d":"2022-05-23","v":81},{"c":"Brazil","d":"2022-05-27","v":95},{"c":"Brazil","d":"2022-05-31","v":147},{"c":"Brazil","d":"2022-06-04","v":174},{"c":"Brazil","d":"2022-06-08","v":187},{"c":"Brazil","d":"2022-06-12","v":213},{"c":"Brazil","d":"2022-06-17","v":200},{"c":"Brazil","d":"2022-06-21","v":252},{"c":"Brazil","d":"2022-06-25","v":279},{"c":"Brazil","d":"2022-06-29","v":226},{"c":"Brazil","d":"2022-07-03","v":292},{"c":"Brazil","d":"2022-07-07","v":292},{"c":"Brazil","d":"2022-07-11","v":265},{"c":"Brazil","d":"2022-07-18","v":265},{"c":"Brazil","d":"2022-07-21","v":213},{"c":"Brazil","d":"2022-07-25","v":160},{"c":"Brazil","d":"2022-07-29","v":147},{"c":"Brazil","d":"2022-08-02","v":121},{"c":"Brazil","d":"2022-08-07","v":108},{"c":"Brazil","d":"2022-08-15","v":81},{"c":"Brazil","d":"2022-08-23","v":68},{"c":"Brazil","d":"2022-08-31","v":55},{"c":"Brazil","d":"2022-09-09","v":42},{"c":"Brazil","d":"2022-09-25","v":42},{"c":"Brazil","d":"2022-10-11","v":47},{"c":"Brazil","d":"2022-10-26","v":40},{"c":"Brazil","d":"2022-11-07","v":37},

{"c":"Mexico","d":"2021-12-10","v":16},{"c":"Mexico","d":"2021-12-24","v":16},{"c":"Mexico","d":"2022-01-01","v":29},{"c":"Mexico","d":"2022-01-05","v":68},{"c":"Mexico","d":"2022-01-09","v":134},{"c":"Mexico","d":"2022-01-12","v":239},{"c":"Mexico","d":"2022-01-14","v":292},{"c":"Mexico","d":"2022-01-17","v":265},{"c":"Mexico","d":"2022-01-19","v":292},{"c":"Mexico","d":"2022-01-21","v":371},{"c":"Mexico","d":"2022-01-22","v":292},{"c":"Mexico","d":"2022-01-23","v":344},{"c":"Mexico","d":"2022-01-25","v":397},{"c":"Mexico","d":"2022-01-27","v":318},{"c":"Mexico","d":"2022-01-28","v":371},{"c":"Mexico","d":"2022-01-30","v":292},{"c":"Mexico","d":"2022-02-01","v":305},{"c":"Mexico","d":"2022-02-03","v":265},{"c":"Mexico","d":"2022-02-06","v":239},{"c":"Mexico","d":"2022-02-08","v":213},{"c":"Mexico","d":"2022-02-11","v":187},{"c":"Mexico","d":"2022-02-14","v":160},{"c":"Mexico","d":"2022-02-17","v":147},{"c":"Mexico","d":"2022-02-20","v":134},{"c":"Mexico","d":"2022-02-28","v":121},{"c":"Mexico","d":"2022-03-04","v":108},{"c":"Mexico","d":"2022-03-08","v":81},{"c":"Mexico","d":"2022-03-16","v":68},{"c":"Mexico","d":"2022-03-25","v":55},{"c":"Mexico","d":"2022-03-31","v":42},{"c":"Mexico","d":"2022-04-03","v":29},{"c":"Mexico","d":"2022-04-28","v":16},{"c":"Mexico","d":"2022-05-19","v":16},{"c":"Mexico","d":"2022-05-31","v":29},{"c":"Mexico","d":"2022-06-08","v":55},{"c":"Mexico","d":"2022-06-17","v":81},{"c":"Mexico","d":"2022-06-25","v":121},{"c":"Mexico","d":"2022-06-29","v":147},{"c":"Mexico","d":"2022-07-03","v":174},{"c":"Mexico","d":"2022-07-07","v":187},{"c":"Mexico","d":"2022-07-11","v":200},{"c":"Mexico","d":"2022-07-17","v":213},{"c":"Mexico","d":"2022-07-21","v":187},{"c":"Mexico","d":"2022-07-25","v":147},{"c":"Mexico","d":"2022-07-29","v":121},{"c":"Mexico","d":"2022-08-07","v":95},{"c":"Mexico","d":"2022-08-15","v":68},{"c":"Mexico","d":"2022-08-23","v":55},{"c":"Mexico","d":"2022-08-31","v":42},{"c":"Mexico","d":"2022-09-17","v":29},{"c":"Mexico","d":"2022-10-06","v":28},{"c":"Mexico","d":"2022-11-07","v":24},

{"c":"India","d":"2021-12-10","v":16},{"c":"India","d":"2021-12-24","v":11},{"c":"India","d":"2022-01-01","v":29},{"c":"India","d":"2022-01-05","v":68},{"c":"India","d":"2022-01-09","v":108},{"c":"India","d":"2022-01-14","v":147},{"c":"India","d":"2022-01-18","v":187},{"c":"India","d":"2022-01-22","v":213},{"c":"India","d":"2022-01-25","v":226},{"c":"India","d":"2022-01-28","v":213},{"c":"India","d":"2022-01-31","v":174},{"c":"India","d":"2022-02-03","v":121},{"c":"India","d":"2022-02-07","v":68},{"c":"India","d":"2022-02-11","v":29},{"c":"India","d":"2022-02-15","v":16},{"c":"India","d":"2022-02-24","v":11},{"c":"India","d":"2022-03-10","v":8},{"c":"India","d":"2022-03-31","v":5},{"c":"India","d":"2022-04-29","v":5},{"c":"India","d":"2022-05-29","v":6},{"c":"India","d":"2022-06-28","v":12},{"c":"India","d":"2022-07-13","v":14},{"c":"India","d":"2022-08-07","v":8},{"c":"India","d":"2022-09-16","v":4},{"c":"India","d":"2022-11-07","v":3}
]},
"mark": {"type": "line", "strokeWidth": 2.4},
"encoding": {
  "x": {"field": "d", "type": "temporal",
    "scale": {"type": "utc", "domain": [{"year": 2021, "month": 12, "date": 10, "utc": true}, {"year": 2022, "month": 11, "date": 7, "utc": true}]},
    "axis": {"title": null, "values": [{"year": 2021, "month": 12, "date": 10, "utc": true}, {"year": 2022, "month": 3, "date": 31, "utc": true}, {"year": 2022, "month": 7, "date": 9, "utc": true}, {"year": 2022, "month": 11, "date": 7, "utc": true}],
      "format": "%b %-d, %Y", "labelFlush": true, "labelLimit": 400, "labelFont": "Lato", "labelFontSize": 32, "labelColor": "#666666", "labelPadding": 6, "tickSize": 8, "tickColor": "#999999", "domain": true, "domainColor": "#bbbbbb", "grid": false, "labelOverlap": false}},
  "y": {"field": "v", "type": "quantitative",
    "scale": {"domain": [0, 5410], "nice": false},
    "axis": {"title": null, "values": [0, 1000, 2000, 3000, 4000, 5000], "format": ",d", "labelFont": "Lato", "labelFontSize": 32, "labelColor": "#666666", "labelPadding": 12, "ticks": false, "domain": false, "grid": true, "gridColor": "#dddddd", "gridDash": [7, 5]}},
  "color": {"field": "c", "type": "nominal",
    "scale": {"domain": ["Taiwan", "Singapore", "Austria", "Germany", "France", "Italy", "United States", "Canada", "United Kingdom", "Spain", "Brazil", "Mexico", "India"],
      "range": ["#9a5129", "#0b2e63", "#3a7dd8", "#cc691e", "#34956f", "#b68a54", "#2b5d1f", "#cf6270", "#dd1f78", "#8f3340", "#b05cb0", "#dc6348", "#7e4fb5"]},
    "legend": {"orient": "none", "legendX": 1380, "legendY": 270, "title": null, "padding": 0,
      "symbolType": "stroke", "symbolSize": 1296, "symbolStrokeWidth": 1.2, "symbolOpacity": 0.45,
      "labelFont": "Lato", "labelFontSize": 27, "labelOffset": 10, "labelLimit": 400, "rowPadding": 0,
      "labelColor": {"expr": "scale('color', datum.value)"}}}
}
}
